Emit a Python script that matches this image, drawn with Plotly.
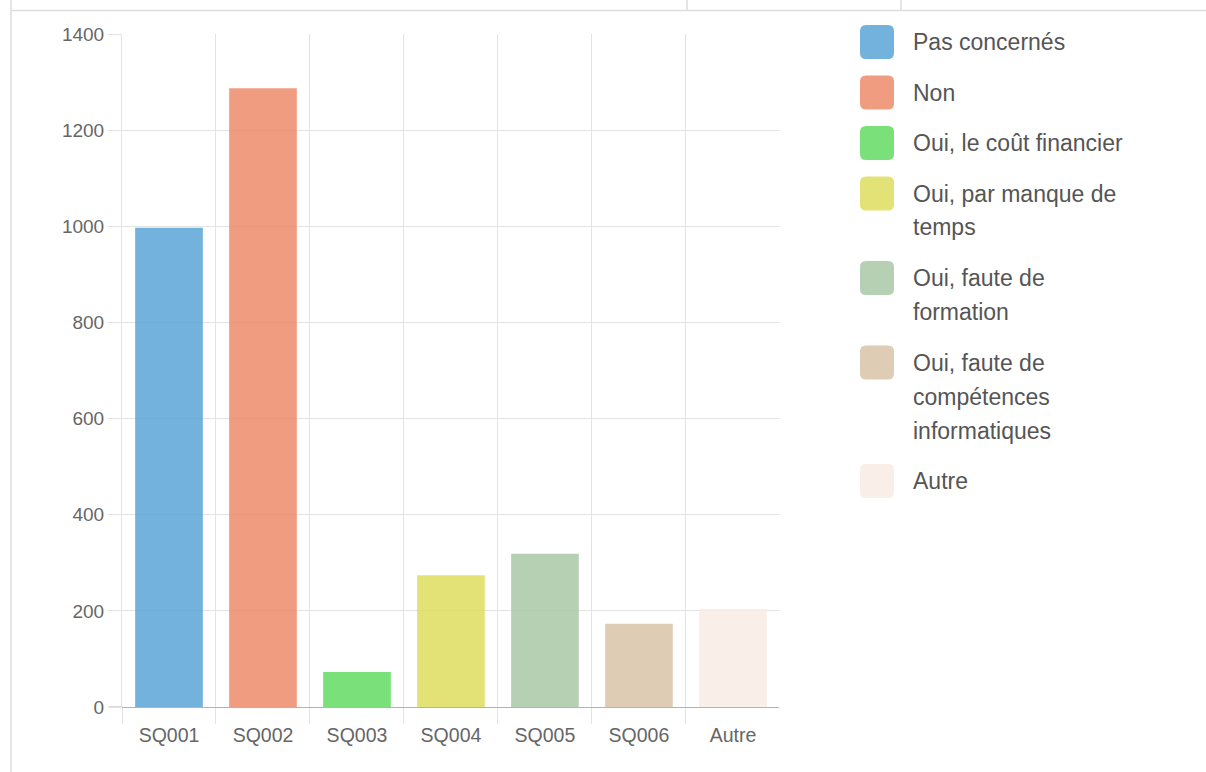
import textwrap
import plotly.graph_objects as go

# ---- data ----
categories = ["SQ001", "SQ002", "SQ003", "SQ004", "SQ005", "SQ006", "Autre"]
values = [997, 1287, 73, 274, 319, 173, 204]
legend_labels = [
    "Pas concernés",
    "Non",
    "Oui, le coût financier",
    "Oui, par manque de temps",
    "Oui, faute de formation",
    "Oui, faute de compétences informatiques",
    "Autre",
]
colors = ["#72B2DC", "#F09C80", "#7AE07A", "#E2E276", "#B6D0B4", "#DECCB4", "#FAEEE8"]
y_ticks = [0, 200, 400, 600, 800, 1000, 1200, 1400]

# ---- layout constants ----
W, H = 1206, 772
ML, MR, MT, MB = 122, 427, 34, 65
PW, PH = W - ML - MR, H - MT - MB
GRID = "#e3e3e3"
FONT = "Liberation Sans, Arial, sans-serif"


def px_x(px):
    return (px - ML) / PW


def px_y(py):
    return 1 - (py - MT) / PH


def hex_rgba(h, a):
    h = h.lstrip("#")
    r, g, b = int(h[0:2], 16), int(h[2:4], 16), int(h[4:6], 16)
    # pre-compensate so that composite on white equals the target colour
    rr = max(0, min(255, round((r - 255 * (1 - a)) / a)))
    gg = max(0, min(255, round((g - 255 * (1 - a)) / a)))
    bb = max(0, min(255, round((b - 255 * (1 - a)) / a)))
    return f"rgba({rr},{gg},{bb},{a})"


fig = go.Figure()
fig.add_trace(
    go.Bar(
        x=categories,
        y=values,
        marker=dict(color=[hex_rgba(c, 0.85) for c in colors], line=dict(width=0)),
        showlegend=False,
        hoverinfo="x+y",
    )
)

shapes = []
annotations = []

# page frame lines
frame = dict(color="#dddddd", width=1.5)
shapes.append(dict(type="line", xref="paper", yref="paper",
                   x0=px_x(11), x1=px_x(W), y0=px_y(10.5), y1=px_y(10.5), line=frame))
shapes.append(dict(type="line", xref="paper", yref="paper",
                   x0=px_x(11), x1=px_x(11), y0=px_y(0), y1=px_y(H), line=frame))
for vx in (687, 901):
    shapes.append(dict(type="line", xref="paper", yref="paper",
                       x0=px_x(vx), x1=px_x(vx), y0=px_y(0), y1=px_y(10.5), line=frame))

# zero tick (darker, like the zero line)
shapes.append(dict(type="line", xref="paper", yref="y",
                   x0=px_x(109), x1=px_x(ML), y0=0, y1=0,
                   line=dict(color="#b3b3b3", width=1)))

# custom legend
SW = 34
RAD = 6
LX = 860
TX = 911
LINE_H = 34
GAP = 16.5
top = 25
for label, col in zip(legend_labels, colors):
    x0, x1, y0, y1 = LX, LX + SW, top, top + SW
    path = (
        f"M {px_x(x0 + RAD)},{px_y(y0)} L {px_x(x1 - RAD)},{px_y(y0)} "
        f"Q {px_x(x1)},{px_y(y0)} {px_x(x1)},{px_y(y0 + RAD)} "
        f"L {px_x(x1)},{px_y(y1 - RAD)} Q {px_x(x1)},{px_y(y1)} {px_x(x1 - RAD)},{px_y(y1)} "
        f"L {px_x(x0 + RAD)},{px_y(y1)} Q {px_x(x0)},{px_y(y1)} {px_x(x0)},{px_y(y1 - RAD)} "
        f"L {px_x(x0)},{px_y(y0 + RAD)} Q {px_x(x0)},{px_y(y0)} {px_x(x0 + RAD)},{px_y(y0)} Z"
    )
    shapes.append(dict(type="path", xref="paper", yref="paper", path=path,
                       fillcolor=col, line=dict(width=0)))
    lines = textwrap.wrap(label, width=22)
    for i, ln in enumerate(lines):
        cy = top + SW / 2 + i * LINE_H
        annotations.append(dict(
            xref="paper", yref="paper", x=px_x(TX), y=px_y(cy),
            xanchor="left", yanchor="middle", text=ln, showarrow=False,
            font=dict(family=FONT, size=23, color="#555555"),
        ))
    top += LINE_H * len(lines) + GAP

fig.update_layout(
    width=W, height=H,
    margin=dict(l=ML, r=MR, t=MT, b=MB, autoexpand=False),
    paper_bgcolor="white", plot_bgcolor="white",
    bargap=0.28,
    font=dict(family=FONT, size=19, color="#666666"),
    xaxis=dict(
        type="category", range=[-0.5, 6.49], tickson="boundaries",
        showgrid=True, gridcolor=GRID, gridwidth=1,
        ticks="outside", ticklen=16, tickcolor=GRID, tickwidth=1,
        ticklabelstandoff=14,
        showline=False, zeroline=False, fixedrange=True,
        tickfont=dict(family=FONT, size=19.5, color="#666666"),
    ),
    yaxis=dict(
        range=[0, 1400], tickvals=y_ticks,
        showgrid=True, gridcolor=GRID, gridwidth=1,
        ticks="outside", ticklen=13, tickcolor=GRID, tickwidth=1,
        zeroline=True, zerolinecolor="#b3b3b3", zerolinewidth=1,
        showline=True, linecolor=GRID, linewidth=1, fixedrange=True,
        tickfont=dict(family=FONT, size=19, color="#666666"),
    ),
    shapes=shapes,
    annotations=annotations,
)

fig.write_html(
    "out.html",
    config={"displayModeBar": False},
    post_script="document.body.style.margin='0';document.body.style.overflow='hidden';",
)
